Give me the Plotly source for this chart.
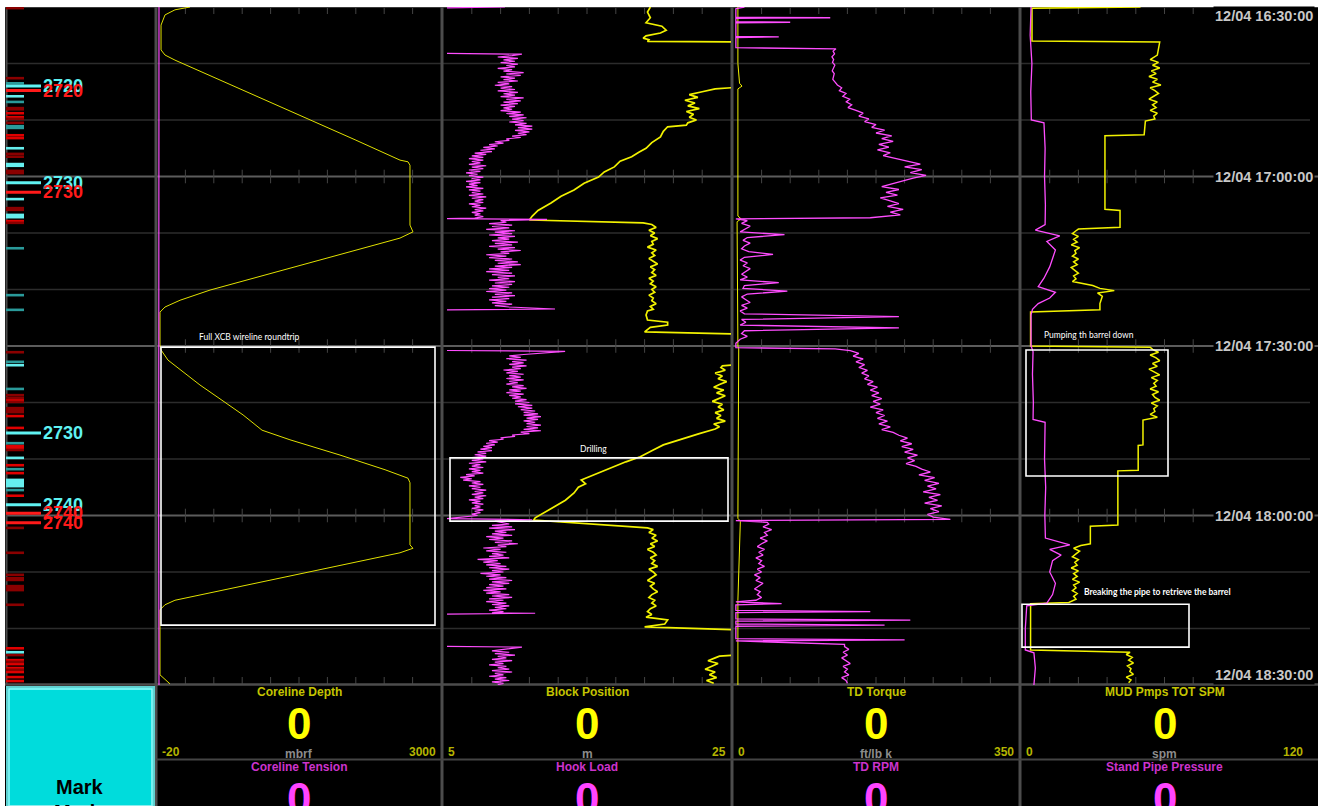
import plotly.graph_objects as go

# ====================== DATA ======================
# time axis: minutes after 12/04 16:30:00 (top) .. 18:30:00 (bottom)
TIME_LABELS = ["12/04 16:30:00", "12/04 17:00:00", "12/04 17:30:00", "12/04 18:00:00", "12/04 18:30:00"]
TIME_LABEL_MIN = [0, 30, 60, 90, 120]

# ---- panel / channel description ----
TOP_TITLES = ["Coreline Depth", "Block Position", "TD Torque", "MUD Pmps TOT SPM"]
BOT_TITLES = ["Coreline Tension", "Hook Load", "TD RPM", "Stand Pipe Pressure"]
UNITS = ["mbrf", "m", "ft/lb k", "spm"]
YELLOW_RANGES = [[-20, 3000], [5, 25], [0, 350], [0, 120]]
RANGE_TEXT = [["-20", "3000"], ["5", "25"], ["0", "350"], ["0", "120"]]
MAGENTA_RANGES = [[0, 100], [0, 100], [0, 100], [0, 100]]
TOP_VALUES = [0, 0, 0, 0]
BOT_VALUES = [0, 0, 0, 0]

# ---- Track 1: Coreline depth (mbrf) / tension ----
CL_DEPTH_T = [0.0, 0.5, 1.4, 3.2, 7.6, 8.5, 9.4, 12.9, 16.5, 20.0, 23.5, 27.1, 27.4, 28.0, 38.6, 39.8, 40.9,
              50.1, 50.4, 51.9, 53.1, 54.0, 59.8, 60.7, 62.5, 64.2, 66.9, 69.6, 72.2, 74.9, 76.6, 79.3, 81.9,
              83.4, 84.2, 95.2, 95.8, 96.6, 105.0, 105.8, 106.7, 118.2, 119.8]
CL_DEPTH_V = [331, 171, 65, 23, 23, 65, 171, 650, 1128, 1607, 2086, 2564, 2649, 2670, 2670, 2702, 2564,
              544, 490, 225, 65, 12, 12, 23, 97, 225, 437, 671, 895, 1097, 1394, 1926, 2405,
              2649, 2670, 2670, 2702, 2564, 171, 65, 12, 12, 118]
CL_TENSION_T = [0, 30, 60, 90, 120]
CL_TENSION_V = [0.7, 0.6, 0.7, 0.6, 0.7]

# ---- Track 2: Block position (m) ----
BP_1_T = [0, 0.9, 1.9, 2.8, 3.4, 4.1, 4.6, 5.1, 5.5, 5.8, 6.1, 6.2]
BP_1_V = [19.4, 19.2, 19.4, 19.1, 20.2, 20.5, 20.1, 19.1, 18.9, 19.3, 19.2, 26.0]
BP_2_T = [14.1, 14.5, 15.0, 15.5, 16.0, 16.5, 17.0, 17.5, 18.0, 18.5, 19.0, 19.5, 20.0, 20.5, 20.9, 21.2, 22.0,
          23.0, 24.0, 25.0, 25.7, 26.5, 27.3, 28.3, 29.2, 30.1, 31.2, 32.4, 33.5, 34.7, 36.0, 37.0, 37.7, 38.2]
BP_2_V = [26.0, 23.9, 23.0, 22.1, 22.7, 21.8, 22.5, 22.0, 22.8, 21.9, 22.4, 22.1, 22.6, 22.0, 21.9, 20.6, 20.3,
          20.1, 19.5, 19.1, 18.6, 18.1, 17.3, 16.9, 16.2, 15.8, 14.8, 14.1, 13.2, 12.5, 11.6, 11.2, 11.0, 18.9]
BP_3_BAND = [19.5, 19.8, 19.3, 19.7, 19.4, 19.9, 19.5, 19.6, 19.2, 19.8, 19.5, 19.7, 19.3, 19.6, 19.9, 19.4,
             19.7, 19.5, 19.8, 19.3, 19.6, 19.4, 19.8, 19.5, 19.7, 19.3, 19.6, 19.5, 19.8, 19.4, 19.6]
BP_4_T = [53.8, 54.5, 55.4, 55.8, 56.3, 56.7, 57.5, 57.9]
BP_4_V = [19.2, 19.1, 19.2, 20.6, 20.6, 19.4, 19.0, 26.0]
BP_5_T = [63.2, 63.5]
BP_5_V = [26.0, 24.4]
BP_6_BAND = [24.3, 24.6, 23.9, 24.4, 24.1, 24.7, 24.2, 23.8, 24.5, 24.0, 24.6, 24.2, 23.7, 24.4, 24.1, 24.5,
             23.9, 24.3, 24.0, 24.6, 23.8, 24.2]
BP_7_T = [74.7, 75.5, 76.6, 77.5, 78.4, 79.6, 80.5, 81.5, 82.4, 83.2, 83.7, 84.4, 85.0, 86.0, 87.3, 88.5, 89.5,
          90.4, 90.8, 92.2]
BP_7_V = [23.9, 22.8, 21.5, 20.3, 19.6, 18.7, 17.7, 16.7, 15.9, 15.0, 14.6, 14.9, 14.4, 14.1, 13.5, 12.7, 12.0,
          11.4, 11.3, 19.2]
BP_8_BAND = [19.6, 19.3, 19.8, 19.5, 19.9, 19.4, 19.7, 19.2, 19.6, 19.8, 19.4, 19.7, 19.5, 19.9, 19.3, 19.6,
             19.8, 19.5, 19.2, 19.7, 19.4, 19.6, 19.9, 19.5, 19.3, 19.7, 19.5, 19.8, 19.4, 19.2, 19.5]
BP_9_T = [108.0, 108.5, 109.2, 109.7, 110.3]
BP_9_V = [19.1, 20.6, 20.4, 19.0, 26.0]
BP_10_T = [114.6, 114.9]
BP_10_V = [26.0, 24.2]
BP_11_BAND = [23.9, 23.4, 24.1, 23.6, 23.2, 23.9, 23.5, 24.0, 23.3, 23.8]

# ---- Track 2: Hook load (relative scale), noisy bands sampled every 0.25 min ----
HL_1_T = [0.0, 0.15]
HL_1_V = [21.5, 1.4]
HL_2_T = [8.2, 8.35]
HL_2_V = [1.4, 27.4]
HL_3_BAND = [24, 19, 26, 21, 25, 20, 26, 22, 25, 19,
             24, 21, 28, 22, 27, 20, 25, 21, 26, 19,
             23, 18, 24, 20, 25, 19, 26, 21, 25, 20,
             28, 22, 27, 21, 26, 20, 25, 21, 24, 20,
             27, 22, 28, 23, 29, 24, 28, 23, 29, 25,
             31, 26, 31, 25, 30, 26, 29, 24, 27, 22,
             23, 18, 21, 16, 19, 14, 18, 13, 17, 11,
             15, 10, 14, 9, 14, 10, 13, 9, 15, 10,
             14, 9, 13, 8, 12, 9, 14, 10, 13, 8,
             13, 9, 12, 8, 14, 9, 13, 10, 14, 9,
             15, 10, 14, 11, 14, 9, 13, 10, 15, 11,
             14, 10, 13, 11, 14, 11]
HL_4_T = [37.45, 37.6, 37.8]
HL_4_V = [1.4, 36.1, 20]
HL_5_BAND = [22, 16, 24, 17, 23, 15, 25, 18, 24, 16,
             25, 19, 23, 17, 26, 18, 24, 16, 25, 19,
             27, 20, 23, 15, 22, 16, 24, 18, 26, 19,
             27, 18, 24, 16, 23, 15, 24, 17, 25, 19,
             23, 16, 25, 18, 24, 17, 23, 16, 22, 15,
             24, 18, 25, 17, 23, 16, 22, 17, 24, 18, 23]
HL_6_T = [53.45, 53.6]
HL_6_V = [38.9, 1.4]
HL_7_T = [60.8, 60.95]
HL_7_V = [1.4, 42.4]
HL_8_BAND = [28, 23, 27, 22, 29, 24, 28, 23, 29, 24,
             27, 21, 26, 22, 28, 23, 27, 22, 28, 23,
             26, 22, 28, 24, 29, 23, 27, 22, 28, 23,
             27, 24, 29, 25, 30, 25, 31, 26, 31, 27,
             32, 28, 33, 28, 34, 29, 33, 28, 32, 29,
             34, 29, 33, 28, 34, 27, 30, 24, 25, 20,
             21, 16, 19, 15, 18, 14, 17, 13, 17, 12,
             15, 11, 15, 10, 14, 10, 15, 9, 13, 10,
             14, 9, 13, 10, 14, 8, 11, 6, 10, 7,
             13, 10, 14, 9, 13, 10, 15, 11, 14, 10,
             15, 11, 14, 9, 13, 10, 14, 11, 13, 10,
             14, 11, 13, 10, 12]
HL_9_T = [90.55, 90.75, 91.0]
HL_9_V = [1.4, 31, 18]
HL_10_BAND = [23, 17, 24, 16, 25, 18, 22, 17, 24, 15,
              21, 16, 24, 18, 26, 19, 22, 14, 20, 15,
              22, 17, 21, 16, 23, 12, 19, 14, 20, 15,
              22, 16, 23, 17, 21, 13, 20, 15, 22, 16,
              24, 17, 23, 16, 21, 15, 22, 14, 20, 15,
              23, 17, 24, 16, 21, 15, 22, 17, 23, 18,
              22, 16, 21, 17]
HL_11_T = [107.3, 107.45]
HL_11_V = [32, 1.4]
HL_12_T = [113.15, 113.3]
HL_12_V = [1.4, 27.4]
HL_13_BAND = [21, 17, 23, 18, 25, 19, 22, 17, 24, 18, 21, 16, 22, 19, 23, 17, 24, 18, 21, 16, 22, 18, 23, 17,
              21, 19]

# ---- Track 3: TD torque / TD RPM ----
TQ_T = [0, 10, 13.5, 14, 14.5, 37, 37.5, 38, 60, 60.5, 90.5, 91, 105, 120]
TQ_V = [6, 6, 8, 11, 6, 6, 10, 5, 6, 7, 6, 9, 6, 6]
RPM_1_T = [0.0, 0.3, 1.8, 1.9, 2.0, 2.6, 2.7, 2.8, 5.2, 5.3, 5.4, 7.2, 7.4]
RPM_1_V = [4, 1.0, 1.0, 34, 1.0, 1.0, 20, 1.0, 1.0, 16, 1.0, 1.0, 36]
RPM_2_BAND = [35, 35.5, 34.6, 35.2, 34.8, 35.6, 35.0, 34.7, 35.4, 35.1, 34.9, 35.7, 36.5, 38.0, 37.2, 39.5, 38.4,
              40.8, 39.6, 41.5, 40.2, 43, 45.5, 44, 47.5, 46, 50, 48.5, 53, 50, 55.5, 52, 56, 51, 54.5, 50.5, 55,
              52.5, 57, 61, 65.5, 60, 66, 62, 67.5, 63, 59.5, 56, 52, 58, 53.5, 57.5, 51.5, 55, 58, 54, 59.5, 55,
              58.5]
RPM_3_T = [37.3, 37.5]
RPM_3_V = [48, 1.0]
RPM_4_BAND = [5, 3, 6, 4, 2.5, 18, 5, 3.5, 6, 4, 3, 5.5, 14, 4, 2.5, 5, 3.5, 6, 4.5, 3, 5, 2.5, 16, 4, 3.5, 19, 5,
              3, 4.5, 6, 3, 5, 2.5, 4, 58, 3, 4.5, 2.5, 58, 4, 3, 5, 2.5]
RPM_5_T = [59.5, 60.3, 60.5]
RPM_5_V = [1.0, 1.0, 35.7]
RPM_6_BAND = [41, 44, 42, 45.5, 43, 46, 44, 47, 45, 47.5, 46, 49, 47, 50.5, 48, 51, 48.5, 52, 49, 51.5, 48, 52.5,
              50, 53, 50.5, 54, 51, 55, 52, 56, 58, 61, 58.5, 62.5, 59, 63, 60, 64.5, 61, 63.5, 60.5, 64, 66, 69,
              65, 70.5, 67, 72, 68, 71, 66.5, 72.5, 68.5, 71.5, 67, 73, 69, 72, 68, 70]
RPM_7_T = [90.7, 90.9, 91.2]
RPM_7_V = [76, 1.0, 12]
RPM_8_BAND = [12.5, 10.5, 13.5, 11, 12, 9.5, 12, 10, 8.5, 11, 9, 10.5, 8, 10, 9, 11, 8.5, 10, 7.5, 9.5, 8, 10.5,
              9, 7.5, 9.5, 8.5, 10, 8]
RPM_9_T = [105.3, 105.6, 105.8, 106.8, 107.0, 107.2, 108.3, 108.5, 108.7, 109.2, 109.4, 109.6, 111.8, 112.0,
           112.2, 112.8]
RPM_9_V = [1.0, 17, 1.0, 1.0, 48, 1.0, 1.0, 62, 1.0, 1.0, 53, 1.0, 1.0, 60, 1.0, 39]
RPM_10_BAND = [39, 40.5, 38.5, 40, 38, 39.5, 41, 38.5, 40, 39, 40.5, 38, 39.5, 40]

# ---- Track 4: mud pumps SPM / stand pipe pressure ----
SPM_1_T = [0.0, 0.2, 6.0, 6.2, 8.5]
SPM_1_V = [50, 4.6, 4.6, 58, 57]
SPM_2_BAND = [56, 54, 57.5, 55, 58, 54.5, 56.5, 53.5, 57, 55, 58.5, 54, 56, 57.5, 55.5, 53.5, 57, 55, 56.5, 54,
              57, 55.5, 56]
SPM_3_T = [20.2, 22.6, 22.8, 35.8, 36.0, 39.0, 39.3]
SPM_3_V = [52, 51.5, 35.1, 35.1, 41.4, 41.4, 24.0]
SPM_4_BAND = [23, 21.5, 24, 22, 23.5, 21, 24.5, 22.5, 23, 21.5, 24, 22, 23.5, 21, 22.5, 24, 22, 23, 21.5]
SPM_5_T = [49.3, 49.8, 50.2, 50.6, 51.2, 52.5, 53.6, 54.0, 60.0, 60.2]
SPM_5_V = [30, 33, 39, 32, 34, 33, 33, 4, 4, 54]
SPM_6_BAND = [55, 57.5, 54, 56.5, 58, 55, 57, 53.5, 56, 58, 54.5, 57, 55.5, 56.5, 54, 57.5, 55, 56, 58, 54.5, 57,
              55.5, 56, 54, 57]
SPM_7_T = [73.1, 77.5, 77.6, 82.0, 82.1, 91.7, 91.9, 95.0]
SPM_7_V = [51, 51, 49, 49, 40.5, 40.5, 29, 29]
SPM_8_BAND = [25, 22, 24.5, 23, 21.5, 24, 22.5, 23.5, 21, 24, 22, 23.5, 21.5, 24.5, 22, 23, 21.5, 23.5, 22, 23]
SPM_9_T = [105.4, 105.6, 113.8, 114.2]
SPM_9_V = [20, 4, 4, 45.6]
SPM_10_BAND = [44, 46.5, 45, 47, 44.5, 46, 45.5, 47, 44, 46, 45]

SPP_T = [0, 5, 10, 15, 20.0, 20.5, 25, 30, 35, 38.5, 39.5, 40.5, 41.5, 43, 44.5, 46, 48, 49.5, 50.5, 51.5, 52.5,
         53.5, 54.5, 60, 61, 65, 70, 73, 73.5, 80, 85, 90, 94, 95.2, 96, 97, 98, 100, 102, 104, 105.5, 106, 110,
         113.8, 114.3, 117, 120]
SPP_V = [3.5, 3.2, 3.8, 3.4, 3.6, 8.0, 8.4, 8.2, 8.5, 8.4, 5, 13.5, 9, 12, 11, 10, 8, 6, 12, 10, 6, 4, 3.5, 3.5,
         4.2, 4.0, 4.3, 4.2, 8.4, 8.2, 8.6, 8.3, 8.5, 17, 10, 14, 11, 10, 12, 11, 9, 2, 1.5, 1.5, 4.5, 5, 4.5]

# ---- depth strip (time at which depth marks were passed) ----
DEPTH_RED_T = [18.8, 19.5, 22.7, 23.2, 37.9, 69.6, 72.4, 74.5, 77.7, 78.1, 81.1, 82.5, 86.5, 113.5, 115.6, 116.3,
               117.0, 117.7, 118.6, 119.3]
DEPTH_DKRED_T = [0.2, 12.6, 17.9, 18.1, 19.8, 20.5, 26.0, 26.5, 29.0, 29.4, 35.6, 35.9, 38.2, 61.1, 68.7, 69.2,
                 69.9, 71.0, 71.3, 71.7, 78.4, 92.2, 96.6, 100.5, 101.1, 101.4, 102.5, 102.8, 103.2, 105.8, 114.7,
                 115.9, 117.3]
DEPTH_CYAN_T = [15.8, 25.0, 27.8, 28.1, 34.0, 36.8, 37.2, 63.4, 79.8, 83.7, 84.1, 84.4, 84.8, 114.2]
DEPTH_TEAL_T = [13.5, 16.8, 21.1, 21.4, 42.7, 51.0, 53.6, 62.8, 67.6, 77.2, 81.8, 85.5]
DEPTH_LABELS = ["2720", "2720", "2730", "2730", "2730", "2740", "2740", "2740"]
DEPTH_LABEL_T = [14.0, 14.8, 31.1, 32.8, 75.4, 88.1, 89.6, 91.3]
DEPTH_LABEL_KIND = ["cyan", "red", "cyan", "red", "cyan", "cyan", "red", "red"]

# ---- annotations ----
BOX_TEXTS = ["Full XCB wireline roundtrip", "Drilling", "Pumping th barrel down",
             "Breaking the pipe to retrieve the barrel"]

# ====================== STYLE / LAYOUT ======================
W, H = 1318, 806
TOP_PX, BOT_PX = 7, 685
TRACK_PX = [(157, 441), (443, 731), (733, 1019), (1021, 1308)]
STRIP_PX = (5, 155)
YELLOW = "#f2f200"
MAGENTA = "#ff4dff"
FONT = "Liberation Sans"


def fx(x):
    return x / W


def fy(y):
    return 1 - y / H


def build(pieces):
    ts, vs = [], []
    for p in pieces:
        if p is None:
            ts.append(None)
            vs.append(None)
        elif p[0] == "band":
            _, t0, dt, vals = p
            ts += [round(t0 + i * dt, 3) for i in range(len(vals))]
            vs += list(vals)
        else:
            _, t, v = p
            ts += list(t)
            vs += list(v)
    return vs, ts


fig = go.Figure()


def line_trace(x, y, xa, color, width=1.1):
    fig.add_trace(go.Scatter(x=x, y=y, xaxis=xa, yaxis="y", mode="lines",
                             line=dict(color=color, width=width), connectgaps=False,
                             hoverinfo="skip", showlegend=False))


# ---- track 1 ----
line_trace(CL_TENSION_V, CL_TENSION_T, "x3", MAGENTA, 1.2)
line_trace(CL_DEPTH_V, CL_DEPTH_T, "x2", "#e0e000", 1.0)

# ---- track 2 ----
hx, hy = build([("pts", HL_1_T, HL_1_V), None,
                ("pts", HL_2_T, HL_2_V), ("band", 8.6, 0.25, HL_3_BAND), ("pts", HL_4_T, HL_4_V),
                ("band", 38.1, 0.25, HL_5_BAND), ("pts", HL_6_T, HL_6_V), None,
                ("pts", HL_7_T, HL_7_V), ("band", 61.5, 0.25, HL_8_BAND), ("pts", HL_9_T, HL_9_V),
                ("band", 91.5, 0.25, HL_10_BAND), ("pts", HL_11_T, HL_11_V), None,
                ("pts", HL_12_T, HL_12_V), ("band", 113.7, 0.25, HL_13_BAND)])
line_trace(hx, hy, "x5", MAGENTA, 1.2)
bx, by = build([("pts", BP_1_T, BP_1_V), None,
                ("pts", BP_2_T, BP_2_V), ("band", 38.5, 0.5, BP_3_BAND), ("pts", BP_4_T, BP_4_V), None,
                ("pts", BP_5_T, BP_5_V), ("band", 63.8, 0.5, BP_6_BAND), ("pts", BP_7_T, BP_7_V),
                ("band", 92.5, 0.5, BP_8_BAND), ("pts", BP_9_T, BP_9_V), None,
                ("pts", BP_10_T, BP_10_V), ("band", 115.2, 0.5, BP_11_BAND)])
line_trace(bx, by, "x4", YELLOW, 1.7)

# ---- track 3 ----
rx, ry = build([("pts", RPM_1_T, RPM_1_V), ("band", 7.8, 0.5, RPM_2_BAND), ("pts", RPM_3_T, RPM_3_V),
                ("band", 37.8, 0.5, RPM_4_BAND), ("pts", RPM_5_T, RPM_5_V), ("band", 60.8, 0.5, RPM_6_BAND),
                ("pts", RPM_7_T, RPM_7_V), ("band", 91.5, 0.5, RPM_8_BAND), ("pts", RPM_9_T, RPM_9_V),
                ("band", 113.2, 0.5, RPM_10_BAND)])
line_trace(rx, ry, "x7", MAGENTA, 1.3)
line_trace(TQ_V, TQ_T, "x6", YELLOW, 1.0)

# ---- track 4 ----
line_trace(SPP_V, SPP_T, "x9", MAGENTA, 1.3)
sx, sy = build([("pts", SPM_1_T, SPM_1_V), ("band", 8.8, 0.5, SPM_2_BAND), ("pts", SPM_3_T, SPM_3_V),
                ("band", 39.6, 0.5, SPM_4_BAND), ("pts", SPM_5_T, SPM_5_V), ("band", 60.6, 0.5, SPM_6_BAND),
                ("pts", SPM_7_T, SPM_7_V), ("band", 95.3, 0.5, SPM_8_BAND), ("pts", SPM_9_T, SPM_9_V),
                ("band", 114.6, 0.5, SPM_10_BAND)])
line_trace(sx, sy, "x8", YELLOW, 1.5)

# ---- depth strip bars ----
BAR_STYLE = {"red": ("#e00000", DEPTH_RED_T), "dkred": ("#8a0000", DEPTH_DKRED_T),
             "cyan": ("#66eeee", DEPTH_CYAN_T), "teal": ("#2a9a9a", DEPTH_TEAL_T)}
for key, (col, times) in BAR_STYLE.items():
    xs, ys = [], []
    for t in times:
        xs += [1, 19, None]
        ys += [t, t, None]
    line_trace(xs, ys, "x", col, 2.6)

LABEL_COL = {"cyan": "#5ff2f2", "red": "#ff1a1a"}
annotations = []
for txt, t, kind in zip(DEPTH_LABELS, DEPTH_LABEL_T, DEPTH_LABEL_KIND):
    line_trace([1, 36], [t, t], "x", LABEL_COL[kind], 3)
    annotations.append(dict(x=36, y=t, xref="x", yref="y", text=txt, showarrow=False, xanchor="left",
                            yanchor="middle", font=dict(family=FONT, size=18, color=LABEL_COL[kind], weight="bold")))

# ---- axes ----
common = dict(visible=False, showgrid=False, zeroline=False, fixedrange=True)
axes = {"xaxis": dict(domain=[fx(STRIP_PX[0]), fx(STRIP_PX[1])], range=[0, 150], anchor="y", **common)}
for i, (x0, x1) in enumerate(TRACK_PX):
    b = 2 + 2 * i
    axes[f"xaxis{b}"] = dict(domain=[fx(x0), fx(x1)], range=YELLOW_RANGES[i], anchor="y", **common)
    axes[f"xaxis{b + 1}"] = dict(domain=[fx(x0), fx(x1)], range=MAGENTA_RANGES[i], anchor="y",
                                 overlaying=f"x{b}", **common)
axes["yaxis"] = dict(domain=[fy(BOT_PX), fy(TOP_PX)], range=[120, 0], anchor="x", **common)

# ---- shapes ----
shapes = [dict(type="rect", xref="paper", yref="paper", x0=fx(5), x1=1, y0=0, y1=fy(7),
               fillcolor="black", line=dict(width=0), layer="below")]
# horizontal grid every 10 min
for m in range(10, 120, 10):
    major = m % 30 == 0
    shapes.append(dict(type="line", xref="paper", yref="y", x0=fx(6), x1=1 if major else fx(1310), y0=m, y1=m,
                       line=dict(color="#5c5c5c" if major else "#2c2c2c", width=2 if major else 1.6),
                       layer="below"))
# short vertical ticks at top/bottom and on 30-min lines
for (x0, x1) in TRACK_PX:
    for k in range(1, 10):
        xx = fx(x0 + k * (x1 - x0) / 10)
        shapes.append(dict(type="line", xref="paper", yref="paper", x0=xx, x1=xx, y0=fy(TOP_PX), y1=fy(TOP_PX + 7),
                           line=dict(color="#444", width=1), layer="below"))
        shapes.append(dict(type="line", xref="paper", yref="paper", x0=xx, x1=xx, y0=fy(BOT_PX - 8), y1=fy(BOT_PX),
                           line=dict(color="#444", width=1), layer="below"))
        for m in (30, 60, 90):
            shapes.append(dict(type="line", xref="paper", yref="y", x0=xx, x1=xx, y0=m - 1.2, y1=m + 1.2,
                               line=dict(color="#444", width=1), layer="below"))
# borders / separators
shapes.append(dict(type="line", xref="paper", yref="paper", x0=fx(5), x1=1, y0=fy(7.5), y1=fy(7.5),
                   line=dict(color="#3a3a3a", width=1), layer="below"))
shapes.append(dict(type="line", xref="paper", yref="paper", x0=fx(6.5), x1=fx(6.5), y0=fy(BOT_PX), y1=fy(7),
                   line=dict(color="#4a4a4a", width=2), layer="below"))
for xs in (156, 442, 732, 1020):
    shapes.append(dict(type="line", xref="paper", yref="paper", x0=fx(xs), x1=fx(xs), y0=0, y1=fy(7),
                       line=dict(color="#4c4c4c", width=3), layer="below"))
shapes.append(dict(type="line", xref="paper", yref="paper", x0=fx(5), x1=1, y0=fy(684.5), y1=fy(684.5),
                   line=dict(color="#4c4c4c", width=2.5), layer="below"))
shapes.append(dict(type="line", xref="paper", yref="paper", x0=fx(156), x1=1, y0=fy(759.5), y1=fy(759.5),
                   line=dict(color="#444", width=2), layer="below"))
# Mark button (bevelled cyan)
shapes.append(dict(type="rect", xref="paper", yref="paper", x0=fx(7), x1=fx(154), y0=0, y1=fy(687),
                   fillcolor="#00dcdc", line=dict(color="#5fd0d0", width=2), layer="below"))
shapes.append(dict(type="rect", xref="paper", yref="paper", x0=fx(9), x1=fx(152), y0=0, y1=fy(689),
                   fillcolor="rgba(0,0,0,0)", line=dict(color="#9af6f6", width=1.5), layer="below"))
# annotation boxes (time in minutes, x in px)
BOXES = [(161, 435, 60.2, 109.4), (450, 728, 79.8, 91.0), (1026, 1168, 60.7, 83.0), (1022, 1189, 105.7, 113.3)]
for (x0, x1, t0, t1) in BOXES:
    shapes.append(dict(type="rect", xref="paper", yref="y", x0=fx(x0), x1=fx(x1), y0=t0, y1=t1,
                       line=dict(color="white", width=1.6), fillcolor="rgba(0,0,0,0)", layer="above"))

# ---- texts ----
BOX_TEXT_POS = [(197, 337, "left", False), (593, 449, "center", False), (1042, 335, "left", False),
                (1082, 592, "left", True)]
for txt, (x, y, anc, bold) in zip(BOX_TEXTS, BOX_TEXT_POS):
    annotations.append(dict(x=fx(x), y=fy(y), xref="paper", yref="paper", text=txt, showarrow=False,
                            xanchor=anc, yanchor="middle",
                            font=dict(family="Lato", size=8.5, color="white", weight="bold" if bold else "normal")))

for lab, m in zip(TIME_LABELS, TIME_LABEL_MIN):
    ypx = min(max(TOP_PX + m * 5.65, 16), 675)
    annotations.append(dict(x=fx(1213), y=fy(ypx), xref="paper", yref="paper", text=lab, showarrow=False,
                            xanchor="left", yanchor="middle", bgcolor="black", borderpad=1,
                            font=dict(family=FONT, size=14.5, color="#c8c8c8", weight="bold")))

for i, (x0, x1) in enumerate(TRACK_PX):
    cx = (x0 + x1) / 2
    annotations += [
        dict(x=fx(cx), y=fy(692), text=TOP_TITLES[i],
             font=dict(family=FONT, size=12, color="#c4c400", weight="bold")),
        dict(x=fx(cx), y=fy(723), text=str(TOP_VALUES[i]),
             font=dict(family=FONT, size=44, color="#ffff00", weight="bold")),
        dict(x=fx(x0 + 3), y=fy(752), text=RANGE_TEXT[i][0], xanchor="left",
             font=dict(family=FONT, size=12, color="#b4b400", weight="bold")),
        dict(x=fx(x1 - 3), y=fy(752), text=RANGE_TEXT[i][1], xanchor="right",
             font=dict(family=FONT, size=12, color="#b4b400", weight="bold")),
        dict(x=fx(cx), y=fy(754), text=UNITS[i],
             font=dict(family=FONT, size=12, color="#8c8c8c", weight="bold")),
        dict(x=fx(cx), y=fy(767), text=BOT_TITLES[i],
             font=dict(family=FONT, size=12, color="#cc33cc", weight="bold")),
        dict(x=fx(cx), y=fy(798), text=str(BOT_VALUES[i]),
             font=dict(family=FONT, size=44, color="#ff44ff", weight="bold")),
    ]
annotations.append(dict(x=fx(80), y=fy(787), text="Mark",
                        font=dict(family=FONT, size=20, color="black", weight="bold")))
annotations.append(dict(x=fx(80), y=fy(812), text="Mode",
                        font=dict(family=FONT, size=20, color="black", weight="bold")))
for a in annotations:
    a.setdefault("xref", "paper")
    a.setdefault("yref", "paper")
    a.setdefault("showarrow", False)
    a.setdefault("xanchor", "center")
    a.setdefault("yanchor", "middle")

fig.update_layout(width=W, height=H, margin=dict(l=0, r=0, t=0, b=0, pad=0),
                  paper_bgcolor="white", plot_bgcolor="black", showlegend=False,
                  shapes=shapes, annotations=annotations, **axes)

fig.write_html("out.html", config={"displayModeBar": False})
